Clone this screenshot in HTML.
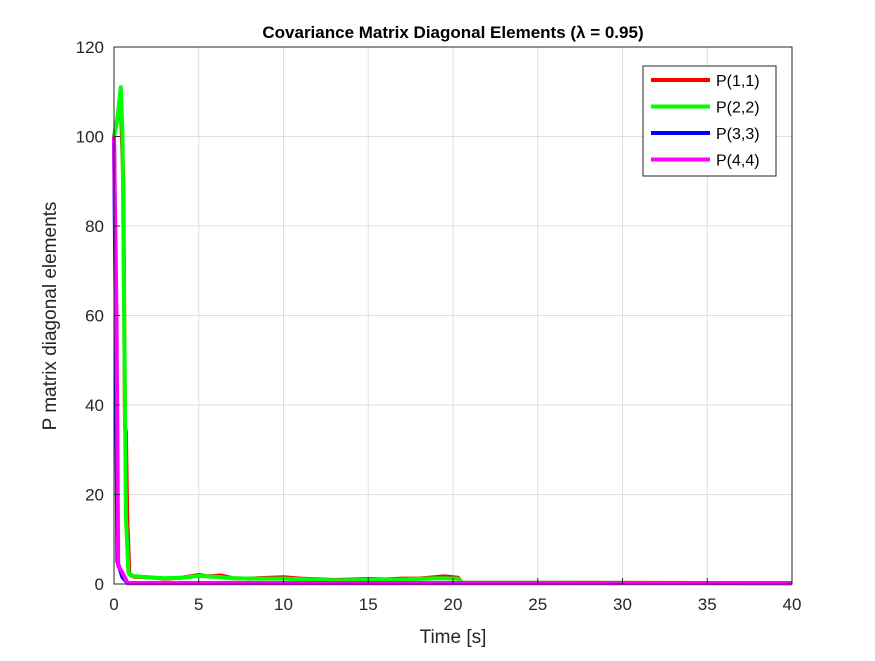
<!DOCTYPE html>
<html><head><meta charset="utf-8"><style>
body{margin:0;background:#fff;font-family:"Liberation Sans",Arial,sans-serif}
</style></head><body>
<svg id="chart" width="875" height="656" xmlns="http://www.w3.org/2000/svg" font-family="Liberation Sans, Arial, sans-serif">
<rect width="875" height="656" fill="#fff"/>
<rect x="114" y="47" width="678" height="537" fill="#fff"/>
<g id="grid"></g>
<g id="series"></g>
<rect x="114" y="47" width="678" height="537" fill="none" stroke="#262626" stroke-width="1"/>
<g id="ticks"></g>
<text x="453" y="38" text-anchor="middle" font-size="17" font-weight="bold" fill="#000">Covariance Matrix Diagonal Elements (λ = 0.95)</text>
<text x="453" y="643" text-anchor="middle" font-size="19" fill="#262626">Time [s]</text>
<text transform="translate(56,316) rotate(-90)" text-anchor="middle" font-size="19" fill="#262626">P matrix diagonal elements</text>
<g id="legend"></g>
</svg>
<script>
const xTicks=[0,5,10,15,20,25,30,35,40];
const yTicks=[0,20,40,60,80,100,120];
const seriesNames=["P(1,1)","P(2,2)","P(3,3)","P(4,4)"];
const seriesColors=["#ff0000","#00ff00","#0000ff","#ff00ff"];
const t1=[0,0.2,0.4,0.55,0.65,0.7,0.78,0.9,1.2,2,3,4,5,5.5,6.3,7,8,10,11,13,15,16,17,18,19.5,20.3,20.5,40];
const p11=[100,104,108,90,35,34,15,2.2,1.6,1.5,1.2,1.4,2.0,1.7,1.9,1.3,1.2,1.5,1.2,0.9,1.1,1.0,1.2,1.2,1.7,1.4,0.3,0.2];
const t2=[0,0.2,0.4,0.5,0.6,0.7,0.85,1.0,2,3,4,5,6,7,8,10,11,13,15,17,19,20.3,20.5,40];
const p22=[100,104,111,100,60,15,2.5,1.8,1.5,1.3,1.4,1.8,1.6,1.3,1.2,1.2,1.1,0.8,0.9,1.0,1.3,1.2,0.3,0.2];
const t3=[0,0.1,0.2,0.5,0.8,40];
const p33=[100,60,5,1.5,0.2,0.2];
const t4=[0,0.15,0.25,0.5,0.8,40];
const p44=[100,60,4,2.5,0.2,0.2];
const X=v=>114+v*(678/40), Y=v=>584-v*(537/120);
const NS="http://www.w3.org/2000/svg";
function mk(tag,attrs,parent){const e=document.createElementNS(NS,tag);for(const k in attrs)e.setAttribute(k,attrs[k]);parent.appendChild(e);return e;}
const grid=document.getElementById('grid'),ticks=document.getElementById('ticks');
xTicks.forEach(v=>{
 const g=mk('line',{x1:X(v),x2:X(v),y1:47,y2:584,stroke:'#dfdfdf','stroke-width':1},grid);
 
 
 mk('line',{x1:X(v),x2:X(v),y1:584,y2:578,stroke:'#262626'},ticks);
 const t=mk('text',{x:X(v),y:610,'text-anchor':'middle','font-size':17,fill:'#262626'},ticks);
 t.textContent=v;
 
 
});
yTicks.forEach(v=>{
 const g=mk('line',{x1:114,x2:792,y1:Y(v),y2:Y(v),stroke:'#dfdfdf','stroke-width':1},grid);
 
 
 mk('line',{x1:114,x2:120,y1:Y(v),y2:Y(v),stroke:'#262626'},ticks);
 const t=mk('text',{x:104,y:Y(v)+6,'text-anchor':'end','font-size':17,fill:'#262626'},ticks);
 t.textContent=v;
 
 
});
const data=[[t1,p11],[t2,p22],[t3,p33],[t4,p44]];
const sg=document.getElementById('series');
data.forEach((d,i)=>{
 const pts=d[0].map((t,j)=>X(t).toFixed(1)+','+Y(d[1][j]).toFixed(1)).join(' ');
 const p=mk('polyline',{points:pts,fill:'none',stroke:seriesColors[i],'stroke-width':4,'stroke-linejoin':'round'},sg);
 
 
});
const lg=document.getElementById('legend');
const box=mk('rect',{x:643,y:66,width:133,height:110,fill:'#fff',stroke:'#262626','stroke-width':1},lg);


seriesNames.forEach((n,i)=>{
 const y=80+i*26.5;
 const l=mk('line',{x1:651,x2:710,y1:y,y2:y,stroke:seriesColors[i],'stroke-width':4},lg);
 
 
 const t=mk('text',{x:716,y:y+6,'font-size':16,fill:'#000'},lg);
 t.textContent=n;
 
 
});
</script>
</body></html>
